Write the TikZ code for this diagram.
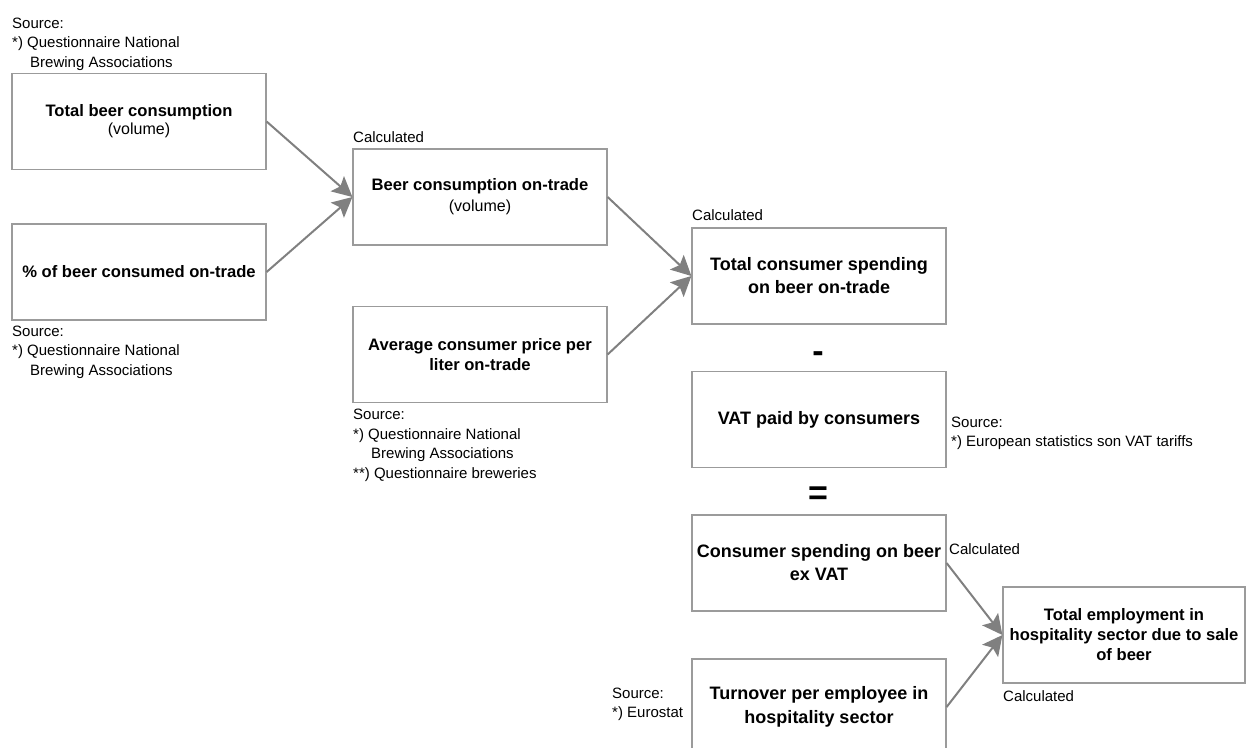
\documentclass[tikz,border=0pt]{standalone}
\usepackage{fontspec}
\setmainfont{Liberation Sans}
\usetikzlibrary{arrows.meta}
\definecolor{boxgray}{RGB}{155,155,155}
\definecolor{arrgray}{RGB}{128,128,128}
\begin{document}
\begin{tikzpicture}[x=1pt,y=-1pt,
  box/.style={draw=boxgray, line width=1.2pt, minimum width=254pt, minimum height=96pt, inner sep=0pt, align=center},
  bsmall/.style={font=\bfseries\fontsize{16.6}{20}\selectfont},
  bbig/.style={font=\bfseries\fontsize{18}{23}\selectfont},
  lbl/.style={anchor=base west, align=left, inner sep=0pt, font=\fontsize{15}{19.5}\selectfont},
  opsign/.style={anchor=base, inner sep=0pt, font=\bfseries\fontsize{34}{34}\selectfont},
  conn/.style={draw=arrgray, line width=2pt, -{Stealth[length=20pt,width=20pt,inset=4pt]}}]
\useasboundingbox (0,0) rectangle (1246,747);
\clip (0,0) rectangle (1246,747);

% boxes
\node[box, bsmall, font=\bfseries\fontsize{16.6}{18}\selectfont] (b1) at (139,121.5) {Total beer consumption\\{\mdseries\fontsize{16}{18}\selectfont (volume)}};
\node[box, bsmall] (b2) at (139,272) {\% of beer consumed on-trade};
\node[box, bsmall, font=\bfseries\fontsize{16.6}{21}\selectfont] (b3) at (480,197) {Beer consumption on-trade\\{\mdseries\fontsize{16}{21}\selectfont (volume)}};
\node[box, bsmall] (b4) at (480,354.5) {Average consumer price per\\liter on-trade};
\node[box, bbig] (b5) at (819,276) {Total consumer spending\\on beer on-trade};
\node[box, bbig] (b6) at (819,419.5) {VAT paid by consumers};
\node[box, bbig] (b7) at (819,563) {Consumer spending on beer\\ex VAT};
\node[box, bbig, font=\bfseries\fontsize{18}{24}\selectfont] (b8) at (819,707) {Turnover per employee in\\hospitality sector};
\node[box, bsmall, minimum width=242pt] (b9) at (1124,635) {Total employment in\\hospitality sector due to sale\\of beer};

% operators
\node[opsign] (minus) at (818,362) {-};
\node[opsign] (equals) at (818,504) {=};

% labels (base anchor = baseline of last line)
\node[lbl] (s1) at (12,67) {Source:\\*) Questionnaire National\\\hspace*{18pt}Brewing Associations};
\node[lbl] (s2) at (12,375) {Source:\\*) Questionnaire National\\\hspace*{18pt}Brewing Associations};
\node[lbl] (s3) at (353,478) {Source:\\*) Questionnaire National\\\hspace*{18pt}Brewing Associations\\**) Questionnaire breweries};
\node[lbl] (s4) at (951,446.5) {Source:\\*) European statistics son VAT tariffs};
\node[lbl] (s5) at (612,717.5) {Source:\\*) Eurostat};
\node[lbl] (c3) at (353,142) {Calculated};
\node[lbl] (c5) at (692,220) {Calculated};
\node[lbl] (c7) at (949,554) {Calculated};
\node[lbl] (c9) at (1003,701) {Calculated};

% connectors
\draw[conn] (b1.east) -- (b3.west);
\draw[conn] (b2.east) -- (b3.west);
\draw[conn] (b3.east) -- (b5.west);
\draw[conn] (b4.east) -- (b5.west);
\draw[conn] (b7.east) -- (b9.west);
\draw[conn] (b8.east) -- (b9.west);
\end{tikzpicture}
\end{document}
